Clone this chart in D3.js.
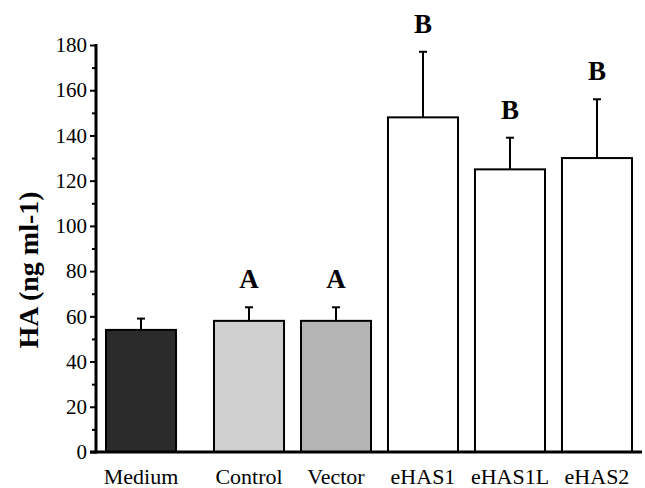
<!DOCTYPE html>
<html>
<head>
<meta charset="utf-8">
<script src="https://cdn.jsdelivr.net/npm/d3@7"></script>
<style>
  html, body { margin: 0; padding: 0; background: #fff; }
  svg { display: block; }
  svg text { font-family: "Liberation Serif", "Times New Roman", "DejaVu Serif", serif; fill: #000; }
</style>
</head>
<body>
<svg id="chart" width="645" height="488"></svg>
<script>
// ---- data ----
const categories = ["Medium", "Control", "Vector", "eHAS1", "eHAS1L", "eHAS2"];
const values     = [54, 58, 58, 148, 125, 130];
const errors     = [5, 6, 6, 29, 14, 26];
const letters    = ["", "A", "A", "B", "B", "B"];
const fills      = ["#2b2b2b", "#cfcfcf", "#b4b4b4", "#ffffff", "#ffffff", "#ffffff"];
const yTicks     = [0, 20, 40, 60, 80, 100, 120, 140, 160, 180];
const yMinorTicks = [10, 30, 50, 70, 90, 110, 130, 150, 170];

// ---- layout ----
const svg = d3.select("#chart");
const axisX = 96, axisRight = 642;
const y = d3.scaleLinear().domain([0, 180]).range([452, 45]);
const x = d3.scaleBand().domain(categories).range([127, 632]).paddingInner(0.195).paddingOuter(0);
const leadGap = 21; // first group sits further left
const bx = (c, i) => x(c) - (i === 0 ? leadGap : 0);
const serif = "Liberation Serif, Times New Roman, DejaVu Serif, serif";

// bars
svg.selectAll("rect.bar").data(categories).join("rect")
  .attr("class", "bar")
  .attr("x", (c, i) => bx(c, i))
  .attr("y", (c, i) => y(values[i]))
  .attr("width", x.bandwidth())
  .attr("height", (c, i) => y(0) - y(values[i]))
  .attr("fill", (c, i) => fills[i])
  .attr("stroke", "#000")
  .attr("stroke-width", 2);

// error bars (upper only)
const eb = svg.append("g").attr("stroke", "#000").attr("stroke-width", 2);
categories.forEach((c, i) => {
  const cx = bx(c, i) + x.bandwidth() / 2;
  eb.append("line").attr("x1", cx).attr("x2", cx)
    .attr("y1", y(values[i])).attr("y2", y(values[i] + errors[i]));
  eb.append("line").attr("x1", cx - 4).attr("x2", cx + 4)
    .attr("y1", y(values[i] + errors[i])).attr("y2", y(values[i] + errors[i]));
});

// significance letters
svg.selectAll("text.sig").data(categories).join("text")
  .attr("class", "sig")
  .attr("x", (c, i) => bx(c, i) + x.bandwidth() / 2)
  .attr("y", (c, i) => y(values[i] + errors[i]) - 19)
  .attr("text-anchor", "middle")
  .style("font-family", serif)
  .style("font-weight", "bold")
  .style("font-size", "27px")
  .text((c, i) => letters[i]);

// y axis
const yAxis = d3.axisLeft(y).tickValues(yTicks).tickSize(6).tickPadding(3).tickFormat(d3.format("d"));
const gy = svg.append("g").attr("transform", `translate(${axisX},0)`).call(yAxis);
gy.attr("font-family", null).attr("font-size", null);
gy.select(".domain").remove();
gy.selectAll(".tick line").attr("stroke", "#000").attr("stroke-width", 2);
gy.selectAll(".tick text").style("font-family", serif).style("font-size", "21px").attr("fill", "#000");
const yMinor = d3.axisLeft(y).tickValues(yMinorTicks).tickSize(4).tickFormat("");
const gym = svg.append("g").attr("transform", `translate(${axisX},0)`).call(yMinor);
gym.select(".domain").remove();
gym.selectAll(".tick line").attr("stroke", "#000").attr("stroke-width", 2);
svg.append("line").attr("x1", axisX).attr("x2", axisX)
  .attr("y1", y(180) - 1).attr("y2", y(0) + 1.5)
  .attr("stroke", "#000").attr("stroke-width", 3);

// x axis line
svg.append("line").attr("x1", axisX - 6).attr("x2", axisRight)
  .attr("y1", y(0)).attr("y2", y(0))
  .attr("stroke", "#000").attr("stroke-width", 3);

// x labels
svg.selectAll("text.xl").data(categories).join("text")
  .attr("class", "xl")
  .attr("x", (c, i) => bx(c, i) + x.bandwidth() / 2)
  .attr("y", 484)
  .attr("text-anchor", "middle")
  .style("font-family", serif)
  .style("font-size", "22px")
  .text(c => c);

// y title
svg.append("text")
  .attr("transform", "translate(38,270) rotate(-90)")
  .attr("text-anchor", "middle")
  .style("font-family", serif)
  .style("font-weight", "bold")
  .style("font-size", "28px")
  .text("HA (ng ml-1)");
</script>
</body>
</html>
